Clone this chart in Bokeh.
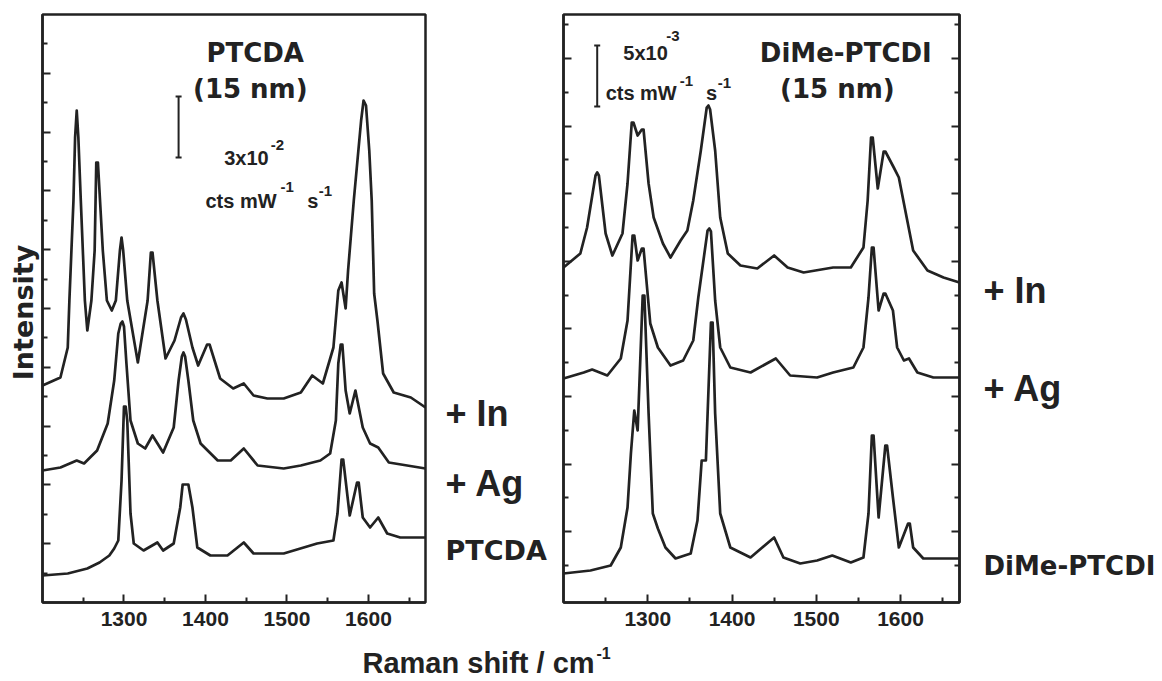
import math
from bokeh.plotting import figure
from bokeh.models import Label, FixedTicker, LinearAxis, Range1d, CustomJSTickFormatter
from bokeh.layouts import row, column
from bokeh.embed import file_html
from bokeh.resources import INLINE

# ---------------- data (Raman shift / cm-1, intensity a.u.) ----------------
# Left panel: PTCDA (15 nm)
ptcda_in_x = [1200, 1222, 1231, 1233, 1238, 1240, 1242, 1244, 1247, 1252, 1255, 1260, 1264, 1266, 1268,
              1274, 1279, 1285, 1290, 1295, 1297, 1299, 1304, 1317, 1329, 1333, 1335, 1341, 1351, 1362,
              1370, 1373, 1376, 1384, 1391, 1402, 1405, 1418, 1434, 1447, 1459, 1476, 1496, 1517, 1531,
              1544, 1557, 1563, 1567, 1572, 1575, 1582, 1591, 1594, 1597, 1601, 1604, 1607, 1611, 1618,
              1631, 1652, 1670]
ptcda_in_y = [217, 225, 255, 302, 402, 465, 492, 465, 402, 302, 272, 302, 352, 440, 440,
              352, 302, 292, 302, 352, 365, 352, 302, 240, 302, 350, 350, 302, 244, 262,
              285, 289, 283, 255, 237, 258, 258, 224, 214, 219, 207, 204, 204, 210, 227,
              219, 255, 312, 320, 294, 332, 402, 482, 502, 497, 452, 402, 309, 282, 229,
              210, 205, 195]

ptcda_ag_x = [1200, 1222, 1242, 1251, 1267, 1280, 1288, 1293, 1296, 1298, 1300, 1303, 1308, 1317, 1326,
              1335, 1348, 1361, 1367, 1371, 1373, 1375, 1379, 1385, 1394, 1415, 1431, 1447, 1464, 1496,
              1517, 1541, 1553, 1560, 1563, 1566, 1568, 1572, 1577, 1584, 1593, 1602, 1612, 1625, 1670]
ptcda_ag_y = [132, 135, 142, 139, 152, 179, 222, 269, 279, 281, 276, 239, 182, 159, 154,
              167, 150, 175, 222, 246, 250, 246, 222, 182, 159, 142, 142, 154, 137, 134,
              137, 142, 149, 182, 239, 258, 258, 212, 189, 212, 175, 159, 155, 140, 134]

ptcda_x = [1200, 1231, 1255, 1270, 1282, 1288, 1293, 1297, 1300, 1302, 1304, 1308, 1312, 1324, 1341,
           1348, 1361, 1369, 1372, 1379, 1384, 1390, 1406, 1427, 1447, 1459, 1496, 1537, 1557, 1562,
           1567, 1569, 1577, 1586, 1588, 1593, 1602, 1612, 1623, 1639, 1670]
ptcda_y = [27, 29, 34, 40, 47, 54, 62, 122, 196, 196, 182, 89, 59, 52, 60,
           52, 59, 95, 118, 118, 95, 55, 47, 47, 60, 49, 49, 59, 62, 89,
           143, 143, 87, 120, 120, 85, 75, 85, 69, 65, 65]

# Right panel: DiMe-PTCDI (15 nm)
dime_in_x = [1200, 1220, 1228, 1238, 1240, 1242, 1250, 1258, 1270, 1276, 1281, 1283, 1288, 1293, 1295,
             1301, 1307, 1318, 1327, 1339, 1347, 1354, 1363, 1370, 1372, 1374, 1380, 1386, 1395, 1410,
             1430, 1450, 1466, 1485, 1520, 1541, 1556, 1561, 1565, 1567, 1573, 1580, 1582, 1592, 1598,
             1608, 1615, 1632, 1651, 1670]
dime_in_y = [335, 349, 375, 427, 430, 427, 369, 347, 369, 419, 480, 480, 467, 473, 473,
             419, 385, 359, 345, 362, 372, 402, 452, 495, 497, 493, 452, 385, 349, 337,
             334, 347, 335, 330, 335, 335, 355, 402, 465, 465, 414, 451, 451, 435, 425,
             382, 352, 332, 325, 320]

dime_ag_x = [1200, 1224, 1234, 1252, 1268, 1276, 1282, 1284, 1288, 1293, 1295, 1303, 1312, 1327, 1342,
             1354, 1360, 1371, 1373, 1375, 1380, 1386, 1398, 1422, 1452, 1469, 1501, 1520, 1544, 1556,
             1562, 1566, 1568, 1574, 1580, 1582, 1591, 1596, 1604, 1610, 1620, 1639, 1670]
dime_ag_y = [224, 230, 233, 227, 244, 282, 367, 367, 342, 354, 354, 279, 255, 237, 242,
             262, 305, 372, 374, 371, 302, 255, 235, 230, 244, 227, 225, 230, 235, 255,
             305, 355, 355, 292, 309, 309, 292, 255, 242, 244, 230, 225, 225]

dime_x = [1200, 1232, 1256, 1268, 1276, 1280, 1284, 1288, 1294, 1296, 1301, 1306, 1312, 1321, 1333,
          1351, 1359, 1364, 1369, 1375, 1377, 1380, 1386, 1398, 1422, 1450, 1461, 1481, 1501, 1519,
          1541, 1556, 1562, 1566, 1568, 1574, 1582, 1584, 1591, 1598, 1609, 1611, 1615, 1627, 1670]
dime_y = [29, 32, 37, 55, 95, 149, 192, 172, 307, 307, 189, 89, 74, 55, 44,
          49, 82, 142, 142, 280, 280, 189, 89, 55, 45, 65, 45, 39, 42, 47,
          40, 45, 89, 167, 167, 85, 157, 157, 105, 55, 79, 79, 55, 44, 44]

x_major = [1300, 1400, 1500, 1600]
x_minor = [1250, 1350, 1450, 1550, 1650]

INK = "#222222"
ARIAL = "Liberation Sans"
WIDE = "DejaVu Sans"
FRAME_TOP = 14
FRAME_H = 588
FRAME_BOTTOM_BORDER = 30


def style_axis(ax, labels=True):
    ax.axis_line_width = 2.5
    ax.axis_line_color = INK
    ax.major_tick_in = 8
    ax.major_tick_out = 0
    ax.minor_tick_in = 5
    ax.minor_tick_out = 0
    ax.major_tick_line_width = 2
    ax.minor_tick_line_width = 2
    ax.major_tick_line_color = INK
    ax.minor_tick_line_color = INK
    ax.axis_label = None
    ax.axis_label_standoff = 0
    if labels:
        ax.major_label_text_font = ARIAL
        ax.major_label_text_font_size = "21px"
        ax.major_label_text_font_style = "bold"
        ax.major_label_text_color = INK
        ax.major_label_standoff = 9
    else:
        ax.formatter = CustomJSTickFormatter(code="return ''")
        ax.major_label_standoff = 0


def lab(p, x, y, text, size, font=WIDE, align="left", angle=0.0):
    p.add_layout(Label(x=x, y=y, text=text, text_font=font, text_font_size=f"{size}px",
                       text_font_style="bold", text_align=align, text_baseline="middle",
                       angle=angle, text_color=INK))


def strip(w):
    # blank plot in the row; its frame lines up with the panels' frames (y 0..588)
    p = figure(width=w, height=FRAME_TOP + FRAME_H + FRAME_BOTTOM_BORDER,
               x_range=Range1d(0, w), y_range=Range1d(0, FRAME_H),
               x_axis_location=None, y_axis_location=None,
               min_border_left=0, min_border_right=0,
               min_border_top=FRAME_TOP, min_border_bottom=FRAME_BOTTOM_BORDER,
               output_backend="svg", toolbar_location=None)
    p.grid.visible = False
    p.outline_line_color = None
    return p


def make_panel(frame_w, border_left, border_right):
    p = figure(frame_width=frame_w, frame_height=FRAME_H,
               x_range=Range1d(1200, 1670), y_range=Range1d(0, FRAME_H),
               output_backend="svg", toolbar_location=None,
               min_border_left=border_left, min_border_right=border_right,
               min_border_top=FRAME_TOP, min_border_bottom=FRAME_BOTTOM_BORDER)
    p.grid.visible = False
    p.outline_line_color = INK
    p.outline_line_width = 2.5
    p.xaxis.ticker = FixedTicker(ticks=x_major, minor_ticks=x_minor)
    style_axis(p.xaxis[0])
    style_axis(p.yaxis[0], labels=False)
    return p


# ---------------- "Intensity" strip ----------------
pL = strip(40)
lab(pL, 23, 290, "Intensity", 27, align="center", angle=math.pi / 2)

# ---------------- left panel ----------------
p1 = make_panel(383, 2, 5)
step1 = 29.4
p1.yaxis.ticker = FixedTicker(ticks=[2 * step1 * k for k in range(1, 10)],
                              minor_ticks=[step1 * (2 * k + 1) for k in range(0, 10)])
for xs, ys in [(ptcda_in_x, ptcda_in_y), (ptcda_ag_x, ptcda_ag_y), (ptcda_x, ptcda_y)]:
    p1.line(xs, ys, line_color=INK, line_width=2.7, line_join="round")

bar1_x, bar1_lo, bar1_hi = 1367, 445, 506
p1.segment(x0=[bar1_x], y0=[bar1_lo], x1=[bar1_x], y1=[bar1_hi], line_color=INK, line_width=2)
p1.scatter([bar1_x, bar1_x], [bar1_lo, bar1_hi], marker="dash", size=6, line_color=INK, line_width=2)

lab(p1, 1461, 550, "PTCDA", 26, align="center")
lab(p1, 1455, 514, "(15 nm)", 26, align="center")
lab(p1, 1423, 445, "3x10", 20, font=ARIAL)
lab(p1, 1480, 458, "-2", 15, font=ARIAL)
lab(p1, 1400, 402, "cts mW", 20, font=ARIAL)
lab(p1, 1492, 416, "-1", 15, font=ARIAL)
lab(p1, 1525, 402, "s", 20, font=ARIAL)
lab(p1, 1539, 412, "-1", 15, font=ARIAL)

# ---------------- middle strip of sample labels ----------------
pM = strip(125)
lab(pM, 15, 189, "+ In", 36, font=ARIAL)
lab(pM, 15, 119, "+ Ag", 36, font=ARIAL)
lab(pM, 15, 52, "PTCDA", 27)

# ---------------- right panel ----------------
p2 = make_panel(396, 8, 3)
step2 = 33.8
base2 = 37
major2 = [base2 + step2 * k for k in range(1, 17, 2)]
minor2 = [base2 + step2 * k for k in range(0, 17, 2)]
p2.yaxis.ticker = FixedTicker(ticks=major2, minor_ticks=minor2)
rax = LinearAxis(ticker=FixedTicker(ticks=major2, minor_ticks=minor2))
style_axis(rax, labels=False)
p2.add_layout(rax, "right")
for xs, ys in [(dime_in_x, dime_in_y), (dime_ag_x, dime_ag_y), (dime_x, dime_y)]:
    p2.line(xs, ys, line_color=INK, line_width=2.7, line_join="round")

bar2_x, bar2_lo, bar2_hi = 1240, 496, 557
p2.segment(x0=[bar2_x], y0=[bar2_lo], x1=[bar2_x], y1=[bar2_hi], line_color=INK, line_width=2)
p2.scatter([bar2_x, bar2_x], [bar2_lo, bar2_hi], marker="dash", size=6, line_color=INK, line_width=2)

lab(p2, 1535, 550, "DiMe-PTCDI", 26, align="center")
lab(p2, 1525, 514, "(15 nm)", 26, align="center")
lab(p2, 1271, 550, "5x10", 20, font=ARIAL)
lab(p2, 1322, 567, "-3", 15, font=ARIAL)
lab(p2, 1250, 510, "cts mW", 20, font=ARIAL)
lab(p2, 1338, 522, "-1", 15, font=ARIAL)
lab(p2, 1369, 510, "s", 20, font=ARIAL)
lab(p2, 1383, 520, "-1", 15, font=ARIAL)

# ---------------- right strip of sample labels ----------------
pR = strip(198)
lab(pR, 21, 312, "+ In", 36, font=ARIAL)
lab(pR, 21, 214, "+ Ag", 36, font=ARIAL)
lab(pR, 21, 37, "DiMe-PTCDI", 26)

# ---------------- shared x-axis title below the row (y measured down from its top) ----------------
p3 = figure(width=1160, height=48, x_range=Range1d(0, 1160), y_range=Range1d(48, 0),
            x_axis_location=None, y_axis_location=None, min_border=0,
            output_backend="svg", toolbar_location=None)
p3.grid.visible = False
p3.outline_line_color = None
lab(p3, 362, 30, "Raman shift / cm", 29, font=ARIAL)
lab(p3, 596, 20, "-1", 16, font=ARIAL)

layout = column(row(pL, p1, pM, p2, pR), p3)
open("out.html", "w").write(file_html(layout, INLINE))
